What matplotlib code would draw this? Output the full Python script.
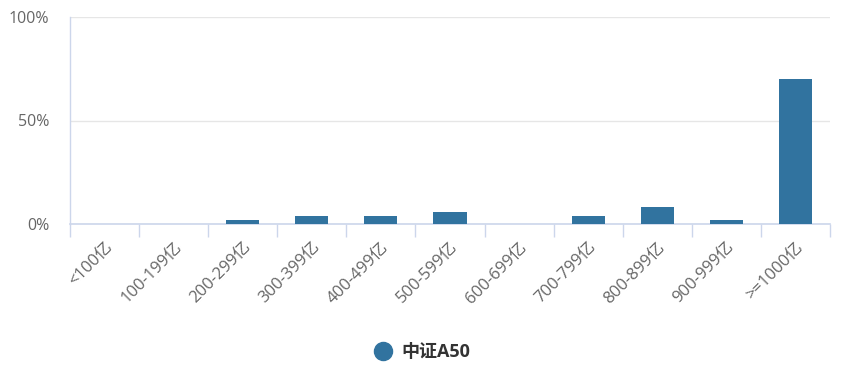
import matplotlib
matplotlib.use("Agg")
import matplotlib.pyplot as plt
from matplotlib.lines import Line2D

plt.rcParams['font.family'] = ['Open Sans', 'Noto Sans CJK SC', 'DejaVu Sans']

categories = ['<100亿', '100-199亿', '200-299亿', '300-399亿', '400-499亿', '500-599亿',
              '600-699亿', '700-799亿', '800-899亿', '900-999亿', '>=1000亿']
values = [0, 0, 2, 4, 4, 6, 0, 4, 8, 2, 70]
yticks = [0, 50, 100]
ytick_labels = ['0%', '50%', '100%']
series_name = '中证A50'

bar_color = '#31739f'
axis_color = '#ccd6eb'
grid_color = '#e6e6e6'
text_color = '#666666'

fig = plt.figure(figsize=(8.54, 3.68), dpi=100)
ax = fig.add_axes([70/854, 1-224/368, 760/854, 207/368])

x = list(range(len(categories)))
ax.bar(x, values, width=0.48, color=bar_color, zorder=3)
ax.set_xlim(-0.5, len(categories) - 0.5)
ax.set_ylim(0, 100)

ax.set_yticks(yticks)
ax.set_yticklabels(ytick_labels, color=text_color, fontsize=11.5)
ax.yaxis.grid(True, color=grid_color, linewidth=1, zorder=0)
ax.tick_params(axis='y', length=0, pad=15)
for lbl in ax.get_yticklabels():
    lbl.set_horizontalalignment('right')

# x ticks at category boundaries
ax.set_xticks([i - 0.5 for i in range(len(categories) + 1)])
ax.set_xticklabels([])
ax.tick_params(axis='x', length=9, color=axis_color, width=1, direction='out')
ax.set_xticks(x, minor=True)
ax.set_xticklabels(categories, minor=True, rotation=45, ha='right', va='top',
                   rotation_mode='anchor', color=text_color, fontsize=12)
ax.tick_params(axis='x', which='minor', length=0, pad=11)

for s in ['top', 'right']:
    ax.spines[s].set_visible(False)
ax.spines['left'].set_color(axis_color)
ax.spines['bottom'].set_color(axis_color)
ax.spines['left'].set_linewidth(1)
ax.spines['bottom'].set_linewidth(1.2)

handle = Line2D([0], [0], marker='o', color='none', markerfacecolor=bar_color,
                markeredgecolor=bar_color, markersize=13)
leg = fig.legend([handle], [series_name], loc='center', bbox_to_anchor=(420/854, 1-352/368),
                 frameon=False, handletextpad=0.3, handlelength=1.4,
                 prop={'size': 13, 'weight': 'bold'})
for t in leg.get_texts():
    t.set_color('#333333')

fig.savefig('out.png', dpi=100)
